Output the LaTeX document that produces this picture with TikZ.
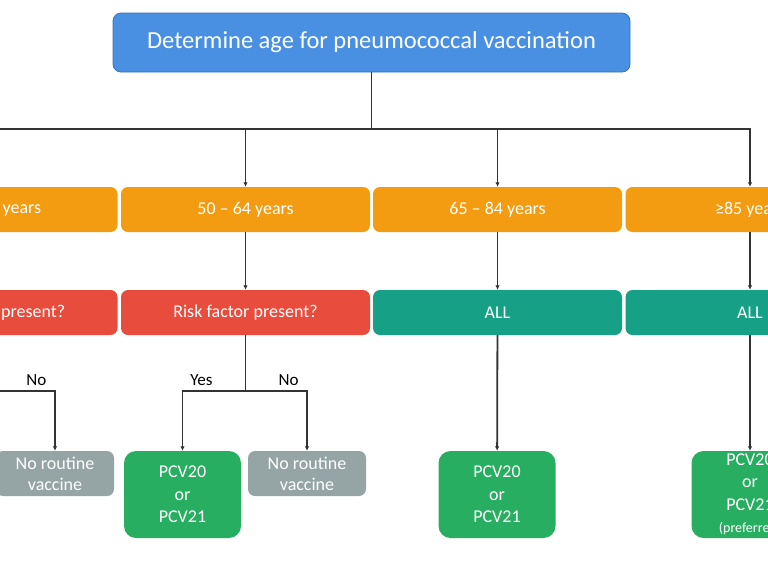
\documentclass[tikz,border=0pt]{standalone}
\usepackage{fontspec}
\setmainfont{Carlito}
\usepackage{xcolor}
\usetikzlibrary{arrows.meta, positioning, calc}
\definecolor{topblue}{RGB}{74, 144, 226}
\definecolor{ageorange}{RGB}{243, 156, 18}
\definecolor{riskred}{RGB}{231, 76, 60}
\definecolor{allteal}{RGB}{22, 160, 133}
\definecolor{vacgreen}{RGB}{39, 174, 96}
\definecolor{nogray}{RGB}{149, 165, 166}
\definecolor{linegray}{RGB}{51, 51, 51}

\begin{document}
\begin{tikzpicture}[x=1pt, y=-1pt,
    box/.style={rounded corners=7pt, text=white, align=center,
      inner sep=0pt, font=\fontsize{18}{22.5}\selectfont},
    agebox/.style={box, fill=ageorange, minimum width=249pt, minimum height=45pt},
    riskbox/.style={box, fill=riskred, minimum width=249pt, minimum height=45pt},
    allbox/.style={box, fill=allteal, minimum width=249pt, minimum height=45pt},
    pcvbox/.style={box, fill=vacgreen, rounded corners=12pt,
      minimum width=117pt, minimum height=87pt},
    nobox/.style={box, fill=nogray, minimum width=118pt, minimum height=45pt,
      font=\fontsize{18}{21}\selectfont},
    arr/.style={-{Latex[length=4.5pt, width=4.5pt]}, line width=1.8pt, linegray},
    lbl/.style={font=\fontsize{17}{19}\selectfont, text=black, above=1pt}]
  \useasboundingbox (0,0) rectangle (768,582);
  \clip (0,0) rectangle (768,582);

  % ── Top box ───────────────────────────────────────────────────────────────
  \node[box, fill=topblue, draw=topblue!80!black, line width=0.8pt,
    rounded corners=8pt, minimum width=517pt, minimum height=59pt,
    font=\fontsize{24.5}{28}\selectfont] (top) at (371.5, 42.5)
    {Determine age for pneumococcal vaccination};

  % ── Age groups and second row (x centres 252pt apart) ─────────────────────
  \node[agebox]  (age1) at (-7, 209.5)  {19 – 49 years};
  \node[agebox]  (age2) at (245.5, 209.5) {50 – 64 years};
  \node[agebox]  (age3) at (497.5, 209.5) {65 – 84 years};
  \node[agebox]  (age4) at (750, 209.5) {≥85 years};

  \node[riskbox] (risk1) at (-7, 312.5)  {Risk factor present?};
  \node[riskbox] (risk2) at (245.5, 312.5) {Risk factor present?};
  \node[allbox]  (all3)  at (497.5, 312.5) {ALL};
  \node[allbox]  (all4)  at (750, 312.5) {ALL};

  % ── Outcomes ──────────────────────────────────────────────────────────────
  \node[nobox]  (no1)  at (55, 473.5)   {No routine\\vaccine};
  \node[pcvbox] (pcv2) at (182.5, 494.5) {PCV20\\or\\PCV21};
  \node[nobox]  (no2)  at (307, 473.5)   {No routine\\vaccine};
  \node[pcvbox] (pcv3) at (497, 494.5)   {PCV20\\or\\PCV21};
  \node[pcvbox] (pcv4) at (750, 494.5)
    {PCV20\\or\\PCV21\\{\fontsize{14}{14}\selectfont(preferred)}};

  % ── Bus from top box to the age groups ────────────────────────────────────
  \coordinate (bus) at (371.5, 129);
  \draw[line width=1.8pt, linegray] (top.south) -- (bus);
  \foreach \grp in {age1, age2, age3, age4} {
    \draw[arr] (bus) -| (\grp.north);
  }

  % ── Age group to second row ───────────────────────────────────────────────
  \foreach \up/\down in {age1/risk1, age2/risk2, age3/all3, age4/all4} {
    \draw[arr] (\up) -- (\down);
  }

  % ── Yes / No branches ─────────────────────────────────────────────────────
  \draw[arr] (risk1.south) |- (-7, 391) -| (no1.north)
    node[lbl, pos=0.35] {No};
  \draw[arr] (risk2.south) -- (245.5, 391) -| (pcv2.north)
    node[lbl, pos=0.35] {Yes};
  \draw[arr] (risk2.south) -- (245.5, 391) -| (no2.north)
    node[lbl, pos=0.35] {No};

  % ── ALL goes straight down ────────────────────────────────────────────────
  \draw[arr] (all3) -- (pcv3);
  \draw[arr] (all4) -- (pcv4);
\end{tikzpicture}
\end{document}
